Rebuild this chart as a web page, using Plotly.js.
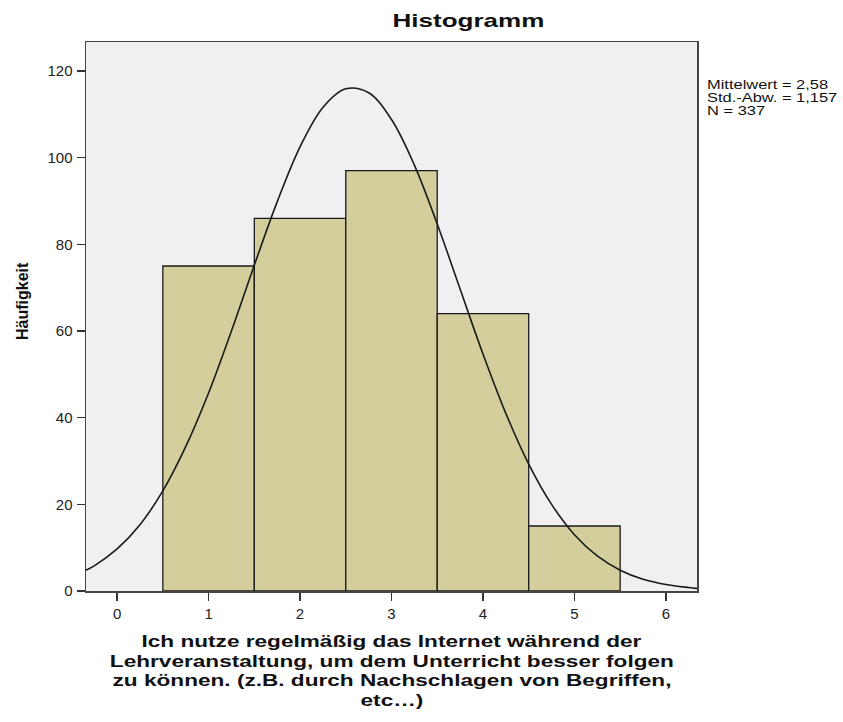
<!DOCTYPE html>
<html>
<head>
<meta charset="utf-8">
<script src="https://cdn.plot.ly/plotly-3.0.1.min.js"></script>
<style>html,body{margin:0;padding:0;background:#fff;}#chart{width:843px;height:722px;}</style>
</head>
<body>
<div id="chart"></div>
<script>
// Histogram bins (category value) and frequencies
const binCenters = [1, 2, 3, 4, 5];
const frequencies = [75, 86, 97, 64, 15];
// Normal curve points
const curveX = [-0.34, -0.25, 0, 0.25, 0.5, 0.75, 1, 1.25, 1.5, 1.75, 2, 2.25, 2.5, 2.75, 3, 3.25, 3.5, 3.75, 4, 4.25, 4.5, 4.75, 5, 5.25, 5.5, 5.75, 6, 6.25, 6.34];
const curveY = [4.8, 5.8, 9.7, 15.3, 23.1, 33.3, 45.7, 60.0, 75.2, 89.8, 102.5, 111.6, 115.9, 115.0, 108.8, 98.3, 84.7, 69.7, 54.7, 41.0, 29.3, 20.0, 13.0, 8.1, 4.8, 2.7, 1.5, 0.8, 0.6];
const xTicks = [0, 1, 2, 3, 4, 5, 6];
const yTicks = [0, 20, 40, 60, 80, 100, 120];
const statsLines = ["Mittelwert = 2,58", "Std.-Abw. = 1,157", "N = 337"];
const titleText = "Histogramm";
const yTitle = "Häufigkeit";
const xTitleLines = ["Ich nutze regelmäßig das Internet während der", "Lehrveranstaltung, um dem Unterricht besser folgen", "zu können. (z.B. durch Nachschlagen von Begriffen,", "etc…)"];

const font = "Liberation Sans, Arial, sans-serif";
const PLOT_TOP = 42, PLOT_BOTTOM = 591, PLOT_LEFT = 86, PLOT_RIGHT = 697;
const pyToPaper = py => (PLOT_BOTTOM - py) / (PLOT_BOTTOM - PLOT_TOP);
const pxToPaper = px => (px - PLOT_LEFT) / (PLOT_RIGHT - PLOT_LEFT);

const traces = [
  {type: 'bar', x: binCenters, y: frequencies, width: 1,
   marker: {color: '#d3ce9b', line: {color: '#1a1a1a', width: 1.3}},
   hoverinfo: 'skip', showlegend: false},
  {type: 'scatter', mode: 'lines', x: curveX, y: curveY,
   line: {color: '#1a1a1a', width: 1.6, shape: 'spline'},
   hoverinfo: 'skip', showlegend: false}
];

const annotations = [];
const stretchIdx = [];
// title
stretchIdx.push(annotations.length);
annotations.push({text: '<b>' + titleText + '</b>', xref: 'paper', yref: 'paper', x: pxToPaper(468), y: pyToPaper(20),
  xanchor: 'center', yanchor: 'middle', showarrow: false, font: {size: 19, color: '#111'}});
// stats lines
const statsY = [85, 98, 111];
statsLines.forEach((s, i) => {
  stretchIdx.push(annotations.length);
  annotations.push({text: s, xref: 'paper', yref: 'paper', x: pxToPaper(705), y: pyToPaper(statsY[i]),
    xanchor: 'left', yanchor: 'middle', align: 'left', showarrow: false, font: {size: 12, color: '#111'}});
});
// x title lines
const xTitleY = [641, 661, 680, 700];
xTitleLines.forEach((s, i) => {
  stretchIdx.push(annotations.length);
  annotations.push({text: '<b>' + s + '</b>', xref: 'paper', yref: 'paper', x: 0.5, y: pyToPaper(xTitleY[i]),
    xanchor: 'center', yanchor: 'middle', showarrow: false, font: {size: 16.5, color: '#111'}});
});
// y title
annotations.push({text: '<b>' + yTitle + '</b>', xref: 'paper', yref: 'paper', x: pxToPaper(22), y: pyToPaper(301),
  xanchor: 'center', yanchor: 'middle', textangle: -90, showarrow: false, font: {size: 16, color: '#111'}});

const layout = {
  width: 843, height: 722,
  margin: {l: PLOT_LEFT, r: 843 - PLOT_RIGHT, t: PLOT_TOP, b: 722 - PLOT_BOTTOM},
  paper_bgcolor: '#ffffff', plot_bgcolor: '#f0f0f0',
  font: {family: font, size: 12, color: '#222'},
  bargap: 0,
  xaxis: {range: [-0.34, 6.34], tickvals: xTicks, ticktext: xTicks.map(String),
    ticks: 'outside', ticklen: 8, tickwidth: 1.5, tickcolor: '#333',
    showline: true, linecolor: '#444', linewidth: 1.5, mirror: true,
    showgrid: false, zeroline: false, tickfont: {size: 15, color: '#222'}},
  yaxis: {range: [0, 126.7], tickvals: yTicks, ticktext: yTicks.map(String),
    ticks: 'outside', ticklen: 8, tickwidth: 1.5, tickcolor: '#333', ticklabelstandoff: 1,
    showline: true, linecolor: '#444', linewidth: 1.5, mirror: true,
    showgrid: false, zeroline: false, tickfont: {size: 15, color: '#222'}},
  annotations: annotations
};

Plotly.newPlot('chart', traces, layout, {displayModeBar: false, staticPlot: true}).then(gd => {
  const STRETCH = 1.37;
  gd.querySelectorAll('g.annotation').forEach(g => {
    const idx = parseInt(g.getAttribute('data-index'), 10);
    if (stretchIdx.indexOf(idx) < 0) return;
    const t = g.querySelector('text.annotation-text');
    if (!t) return;
    const w = t.getComputedTextLength();
    t.setAttribute('textLength', (w * STRETCH).toFixed(1));
    t.setAttribute('lengthAdjust', 'spacingAndGlyphs');
  });
});
</script>
</body>
</html>
